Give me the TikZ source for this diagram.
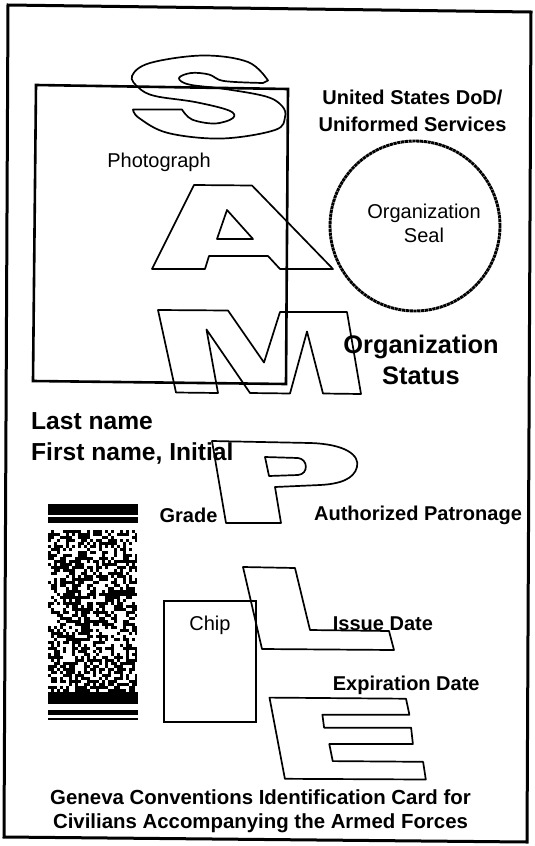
\documentclass[tikz,border=0pt]{standalone}
\usepackage{fontspec}
\setmainfont{Liberation Sans}
\usetikzlibrary{positioning}

\tikzset{
  lbl/.style={inner sep=0pt, font=\fontsize{20}{24}\selectfont},
  blbl/.style={inner sep=0pt, font=\fontsize{20}{27}\selectfont\bfseries},
  outl/.style={line width=1.7pt, line join=round},
  bar/.style={fill=black},
}

\begin{document}
\begin{tikzpicture}[x=1pt,y=-1pt]
\useasboundingbox (0,0) rectangle (535,846);
% card and photo frame
\draw[line width=3pt] (8,5) -- (531,12) -- (527,842) -- (4,837) -- cycle;
\draw[line width=2.6pt] (36,85) -- (288,89) -- (286,384) -- (33,381) -- cycle;
\node[lbl] (photo) at (159,162) {Photograph};
\node[blbl, align=center] (dod) at (412.5,111) {United States DoD/\\Uniformed Services};
\node[draw, circle, minimum size=170pt, line width=2.9pt, dash pattern=on 3.2pt off 0.6pt] (seal) at (415,226) {};
\node[lbl, align=center] (seallbl) at (424,223) {Organization\\Seal};
\node[inner sep=0pt, font=\fontsize{25.4}{30.5}\selectfont\bfseries, align=center] (status) at (421,360) {Organization\\Status};
\node[inner sep=0pt, font=\fontsize{24.6}{31}\selectfont\bfseries, align=left, anchor=west] (name) at (31,438.5) {Last name\\First name, Initial};
\node[blbl] (grade) at (188.5,515) {Grade};
\node[blbl] (patron) at (418,515) {Authorized Patronage};
% barcode
\fill[bar] (48,503.5) rectangle (137.5,514.5);
\fill[bar] (48,517) rectangle (137.5,522.5);
\pgfmathsetseed{17}
\foreach \r in {0,...,53}{
  \foreach \c in {0,...,29}{
    \pgfmathtruncatemacro\on{rnd<0.55}
    \ifnum\on=1 \fill[bar] (48+\c*2.983,530+\r*3) rectangle ++(2.983,3); \fi
  }
}
\fill[bar] (48,692) rectangle (137.5,704);
\fill[bar] (48,710) rectangle (137.5,715);
\fill[bar] (48,717.5) rectangle (137.5,720);
% chip
\draw[line width=1.5pt] (164,601) rectangle (256,722);
\node[lbl] (chiplbl) at (210,625) {Chip};
\node[blbl, anchor=west] (issue) at (332.7,623.6) {Issue Date};
\node[blbl, anchor=west] (expire) at (332.7,685) {Expiration Date};
\node[inner sep=0pt, font=\fontsize{20.4}{24}\selectfont\bfseries, align=center] (title) at (260.5,811) {Geneva Conventions Identification Card for\\Civilians Accompanying the Armed Forces};
% SAMPLE outline letters
\draw[outl] (133,109.5) -- (182,109.5)
  -- plot[smooth, tension=0.6] coordinates {(182,109.5) (192,119.5) (215,123.5) (233,118) (229,110.5) (195,102) (155,96) (139,88) (132,76) (150,63) (203,55.5) (248,62) (268,80.5)}
  -- (263,83)
  -- plot[smooth, tension=0.6] coordinates {(263,83) (224,81) (209,74.5) (191,73) (179,78) (189,84.5) (225,89) (266,96.5) (282,106) (285,117) (275,130) (222,138.5) (168,133) (139,118) (133,109.5)}
  -- cycle;
\draw[outl] (194,185) -- (252,185.5) -- (333,269) -- (280,269) -- (268,256) -- (209,256) -- (205,269) -- (152,269) -- cycle;
\draw[outl] (227,210) -- (253,239) -- (217,239) -- cycle;
\draw[outl] (158,310) -- (228,310.5) -- (264,362.5) -- (280,312) -- (347,312) -- (361,394) -- (323,393.5) -- (307,331.5) -- (290,393.5) -- (250,393) -- (206.5,329.5) -- (218,393) -- (176,392.5) -- cycle;
\draw[outl] (212,441) -- (310,443) .. controls (345,444) and (360,455) .. (357,467) .. controls (354,479) and (340,484) .. (320,485) -- (275,487) -- (281,523) -- (226,523) -- cycle;
\draw[outl] (265,457) -- (298,458) .. controls (308,459) and (309,474) .. (298,475) -- (269,476) -- cycle;
\draw[outl] (243,567) -- (295,568) -- (310,630) -- (389,631) -- (394,650) -- (262,649) -- cycle;
\draw[outl] (269.5,697.6) -- (406,698.7) -- (409.4,714.7) -- (322.4,714.7) -- (324.1,727.7) -- (411.1,727.7) -- (412.9,744) -- (329.3,744) -- (332.7,761.1) -- (423.1,761.8) -- (425.8,779.5) -- (284.9,778.8) -- cycle;
\end{tikzpicture}
\end{document}
